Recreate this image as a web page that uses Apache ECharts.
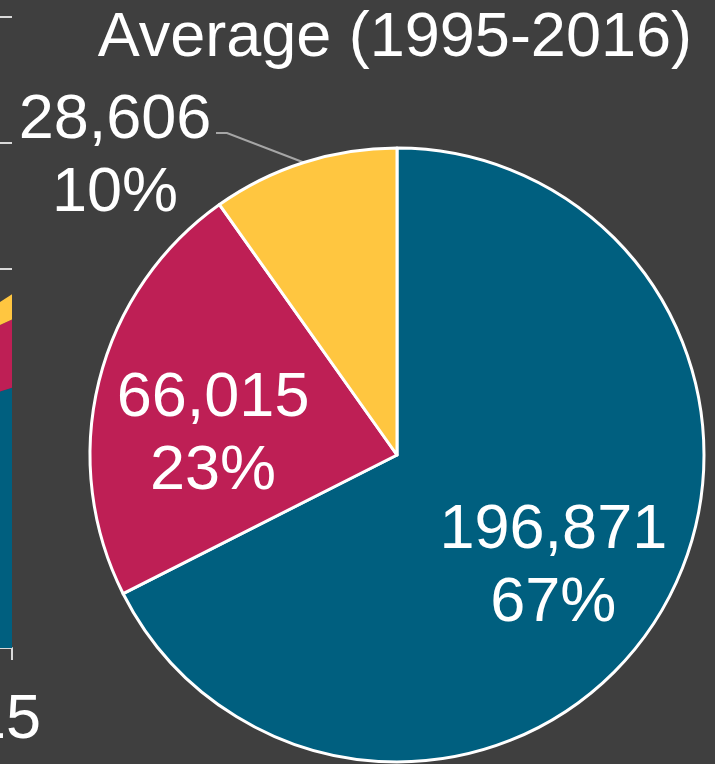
<!DOCTYPE html>
<html>
<head>
<meta charset="utf-8">
<script src="https://cdn.jsdelivr.net/npm/echarts@6/dist/echarts.min.js"></script>
<style>
  html, body { margin: 0; padding: 0; background: #3f3f3f; }
  #main { width: 715px; height: 764px; }
</style>
</head>
<body>
<div id="main"></div>
<script>
// left (cut off) stacked area chart: only the last stretch is visible
var years = ['2014', '2015'];
var blueVals = [196000, 206000];
var redVals = [50000, 54000];
var yellowVals = [14000, 20000];
var yTicks = [0, 100000, 200000, 300000, 400000, 500000];
var shownYear = '2015';

// average pie
var sliceNames = ['Series 1', 'Series 2', 'Series 3'];
var sliceValues = [196871, 66015, 28606];

var colors = ['#005f7f', '#be1f55', '#ffc640'];
var fontName = 'Liberation Sans';

var chart = echarts.init(document.getElementById('main'));

var areaSeries = [blueVals, redVals, yellowVals].map(function (vals, i) {
  return {
    name: sliceNames[i],
    type: 'line',
    stack: 'total',
    data: vals,
    symbol: 'none',
    lineStyle: { width: 0 },
    areaStyle: { color: colors[i], opacity: 1 },
    itemStyle: { color: colors[i] }
  };
});

var pieData = sliceValues.map(function (v, i) {
  var item = { name: sliceNames[i], value: v, itemStyle: { color: colors[i] } };
  if (i < 2) {
    item.label = { position: 'inside' };
    item.labelLine = { show: false };
  }
  return item;
});

var option = {
  backgroundColor: '#3f3f3f',
  animation: false,
  textStyle: { fontFamily: fontName },
  title: {
    text: 'Average (1995-2016)',
    right: 18,
    top: 2,
    textStyle: { color: '#fff', fontSize: 63, fontWeight: 'normal', fontFamily: fontName }
  },
  grid: { left: -28, right: 703, top: 16.5, bottom: 116, outerBoundsMode: 'none' },
  xAxis: {
    type: 'category',
    data: years,
    boundaryGap: false,
    axisLine: { lineStyle: { color: '#d9d9d9', width: 2 } },
    axisTick: { show: true, length: 12, lineStyle: { color: '#d9d9d9', width: 2 } },
    axisLabel: {
      interval: function (idx, val) { return val === shownYear; },
      color: '#fff',
      fontSize: 63,
      fontFamily: fontName,
      align: 'right',
      padding: [0, -29, 0, 0],
      margin: 41
    }
  },
  yAxis: {
    type: 'value',
    min: yTicks[0],
    max: yTicks[yTicks.length - 1],
    interval: yTicks[1] - yTicks[0],
    axisLabel: { show: false },
    axisLine: { show: false },
    axisTick: { show: false },
    splitLine: { lineStyle: { color: '#d9d9d9', width: 2 } }
  },
  series: areaSeries.concat([{
    type: 'pie',
    center: [397, 455],
    radius: 307,
    startAngle: 90,
    clockwise: true,
    percentPrecision: 0,
    avoidLabelOverlap: false,
    itemStyle: { borderColor: '#fff', borderWidth: 3 },
    label: {
      position: 'outside',
      color: '#fff',
      fontSize: 63,
      lineHeight: 73,
      fontFamily: fontName,
      align: 'center',
      formatter: function (p) {
        return p.value.toLocaleString('en-US') + '\n' + p.percent + '%';
      }
    },
    labelLine: { show: true, lineStyle: { color: '#a6a6a6', width: 2 } },
    labelLayout: function (p) {
      if (p.dataIndex === 2) {
        var edge = p.labelLinePoints ? p.labelLinePoints[0] : [303, 163];
        return {
          x: 115, y: 157, align: 'center', verticalAlign: 'middle',
          labelLinePoints: [edge, [227, 133], [216, 133]]
        };
      }
      if (p.dataIndex === 0) {
        return { dx: 23, dy: 30 };
      }
      return { dx: -32, dy: 18 };
    },
    data: pieData
  }])
};

chart.setOption(option);
</script>
</body>
</html>
